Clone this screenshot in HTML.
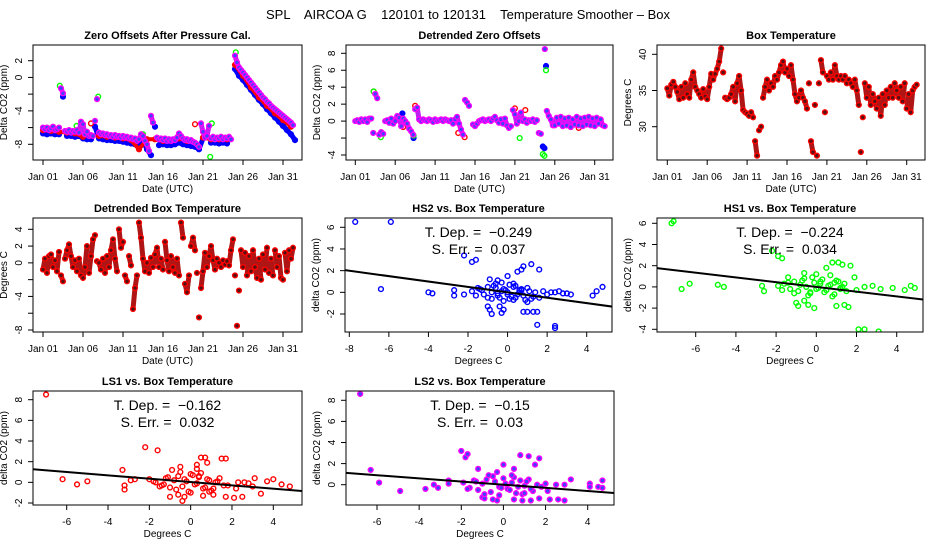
<!DOCTYPE html>
<html><head><meta charset="utf-8">
<style>
html,body{margin:0;padding:0;background:#fff;}
svg{display:block;font-family:"Liberation Sans",sans-serif;}
text{white-space:pre;}
</style></head>
<body>
<svg id="chart" width="936" height="540" viewBox="0 0 936 540" xmlns="http://www.w3.org/2000/svg">
<text x="468" y="19" text-anchor="middle" font-size="13">SPL    AIRCOA G    120101 to 120131    Temperature Smoother – Box</text>
</svg>
<script>
// ---------- data ----------
const dateTickDays = [0,5,10,15,20,25,30];
const dateTickLabels = ["Jan 01","Jan 06","Jan 11","Jan 16","Jan 21","Jan 26","Jan 31"];

// Panel 1: zero offsets (step 0.25 day)
const zoMagenta = [-6.0,-6.2,-6.0,-6.3, -6.1,-5.9,-6.3,-6.2, -6.0,-1.3,-1.9,-6.4, -6.5,-6.3,-6.6,-6.4,
 -6.5,-6.3,-6.6,-5.3, -5.6,-6.8,-6.5,-7.0, -6.9,-7.0,-5.2,-2.6, -6.6,-6.8,-6.7,-6.9,
 -6.8,-7.0,-6.9,-7.1, -6.9,-7.1,-7.0,-7.2, -7.0,-7.2,-7.1,-7.3, -7.2,-7.4,-7.3,-7.6,
 -7.4,-6.8,-7.0,-7.6, -8.0,-8.8,-4.6,-5.4, null,-7.2,-7.4,-7.3, -7.5,-7.3,-7.6,-7.4,
 -7.6,-7.4,-7.5,-7.2, -6.7,-7.0,-7.3,-7.5, -7.4,-7.6,-7.5,-7.7, -7.8,-8.0,-8.3,-5.5,
 -6.5,-7.2,-7.0,-5.8, -7.3,-7.1,-7.4,-7.2, -7.3,-7.1,-7.4,-7.2, -7.3,-7.1,-7.4,null,
 2.6,1.8,1.2,0.9, 0.6,0.3,0.0,-0.3, -0.6,-0.9,-1.2,-1.5, -1.8,-2.1,-2.4,-2.6,
 -2.9,-3.1,-3.4,-3.6, -3.8,-4.0,-4.2,-4.4, -4.6,-4.8,-5.0,-5.2, -5.4,-5.7];
const zoBlue = [-6.7,-6.8,-6.7,-6.8,-6.8,-2.3,-7.0,-7.0,-7.1,-7.0,-7.3,-7.4,-7.4,-5.9,-7.3,-7.4,
 -7.5,-7.5,-7.6,-7.6,-7.7,-7.8,-7.9,-8.0,-8.1,-7.6,-8.6,-9.3,-5.9,-8.1,-8.0,-8.1,
 -8.1,-8.0,-7.8,-8.0,-8.1,-8.2,-8.3,-8.6,-7.3,-10.2,-7.8,-7.8,-7.9,-7.8,-7.9,null,
 1.0,0.2,-0.3,-0.9,-1.5,-2.1,-2.7,-3.2,-3.8,-4.3,-4.8,-5.3,-5.8,-6.3,-6.8,-7.5];
const zoRed = [-6.3,-6.4,-6.5,-6.6,-6.7,-7.1,-5.5,-7.0,-7.1,-7.2,-7.3,-7.5,-8.6,-7.4,-7.4,-7.6,
 -7.6,-7.3,-7.6,-5.6,-7.2,-7.4,-7.4,-7.4,1.5,0.2,-1.2,-2.4,-3.4,-4.3,-5.1,-5.9];
const zoGreenT = [2.1,6.9,20.9,21.1,24.1,12.5,4.2];
const zoGreenV = [-1.0,-2.3,-9.5,-5.5,3.0,-6.8,-5.8];

// Panel 2: detrended zero offsets (step 0.25 day)
const dzMagenta = [0.0,0.1,-0.1,0.2, 0.0,0.2,-0.1,0.3, 0.3,-1.4,3.2,2.7, -1.6,-1.3,-1.5,0.0,
 0.1,-0.2,0.3,-0.3, 0.0,0.6,0.4,-0.6, 0.3,0.0,-0.3,-0.9, -1.2,-1.6,1.4,1.6,
 0.2,0.0,0.2,0.1, 0.0,0.2,0.1,-0.1, 0.2,0.0,0.1,0.2, 0.0,0.2,0.1,0.0,
 0.1,-0.3,0.2,0.5, -0.3,-1.0,-1.6,2.5, 2.2,1.8,null,-0.4, -0.6,-0.3,0.0,0.1,
 0.2,0.0,0.1,0.2, 0.0,0.3,0.5,0.1, -0.2,0.2,-0.3,0.3, -0.5,-0.8,-0.6,1.3,
 0.8,-0.3,0.0,1.0, 0.0,0.2,-0.2,0.1, 0.0,0.2,-0.1,0.1, -1.4,-1.5,null,8.5,
 1.2,0.6,0.2,-0.5, -0.5,0.4,-0.3,0.5, -0.6,0.3,-0.5,0.4, -0.7,0.2,-0.4,0.5,
 -0.5,0.3,-0.6,0.4, -0.4,0.5,-0.5,0.3, -0.6,0.4,-0.3,0.2, -0.5,-0.6];
const dzBlueT = [23.5,23.7,23.9,5.9,7.3];
const dzBlueV = [-3.0,-3.2,6.5,0.9,-2.0];
const dzGreenT = [23.5,23.7,23.9,20.6,3.2,7.3,2.3];
const dzGreenV = [-3.9,-4.1,6.0,-2.0,-1.9,-1.7,3.5];
const dzRedT = [12.9,7.5,20.0,21.3,13.7,2.3,6.0,28.0,27.0];
const dzRedV = [-1.4,1.8,1.5,1.3,-1.9,3.5,-0.7,-0.8,-0.7];

// Panel 3: box temperature (step 0.25 day)
const boxTemp = [35.3,34.3,35.8,36.2, 35.5,34.8,33.8,35.5, 34.0,36.0,34.5,34.0, 36.5,37.5,35.5,35.0,
 34.5,34.0,35.2,34.2, 33.8,35.5,37.3,36.5, 37.3,38.0,39.0,40.8, 37.5,34.0,33.8,34.0,
 34.5,35.5,33.5,36.0, 37.0,35.0,32.3,32.0, 31.8,31.5,32.0,31.3, 28.0,26.0,29.5,30.0,
 34.0,35.5,36.5,35.0, 36.0,35.5,37.0,36.5, 37.5,38.5,39.0,37.5, 38.0,37.0,38.5,36.5,
 34.5,33.5,34.0,35.0, 34.0,33.5,32.5,36.0, 28.0,26.5,33.0,26.0, 36.0,39.2,37.5,32.0,
 37.0,36.5,37.5,36.5, 38.5,37.0,36.5,37.0, 36.5,37.0,36.0,36.5, 36.0,35.5,36.5,35.0,
 33.0,26.5,31.3,36.0, 34.0,35.5,33.0,34.5, 33.5,32.5,34.0,31.5, 34.5,33.0,35.0,34.0,
 35.5,34.0,36.0,35.0, 34.0,35.5,33.5,36.0, 32.5,34.5,32.0,35.0, 35.5,35.8];

// Panel 4: detrended box temperature (step 0.25 day)
const dBoxTemp = [-0.8,0.5,-1.2,0.8, 1.0,-0.5,0.3,-1.0, 1.3,-1.5,-2.2,0.5, 1.5,2.2,0.8,-0.5,
 0.3,-1.0,0.5,-1.5, -1.8,-0.5,2.0,-1.2, 0.8,2.8,3.3,0.2, 0.0,-0.8,0.5,-1.2,
 0.8,-0.5,1.5,2.8, 0.5,-1.0,4.0,1.8, 2.5,-1.5,-2.2,0.8, -0.3,-5.5,-3.0,-1.5,
 4.8,3.0,0.5,-1.0, 0.0,-1.2,0.6,-0.5, 1.0,1.8,-0.5,0.5, -0.8,2.5,0.3,-1.0,
 0.8,-0.5,-1.2,0.5, -1.5,4.8,3.0,-2.5, -3.5,-1.5,2.0,3.0, 1.5,-1.2,-6.5,-3.0,
 -1.0,1.2,-0.5,0.8, 2.0,0.3,-0.8,0.5, 0.0,-0.5,0.3,-0.2, 0.2,-0.3,1.5,2.8,
 -1.5,-7.5,-3.3,1.5, -0.5,1.2,-1.5,0.8, -1.0,1.5,-0.5,-1.8, 0.5,-2.0,1.0,-0.8,
 1.8,-1.2,0.5,-1.5, 1.5,-0.5,0.8,-1.8, -2.0,1.2,-1.0,1.5, 0.5,1.8];

// Scatter panels
const hs2X = [-7.7,-5.9,-6.4,-4.0,-3.8,-2.7,-2.7,-2.2,-1.8,-1.6,-2.2,-1.0,-0.9,-0.8,-0.4,-0.3,-0.2,0.5,0.7,0.8,1.2,1.6,1.5,2.4,2.4,0.8,1.0,1.3,1.5,2.4,2.8,3.2,4.3,4.5,4.8,2.0,1.8,-0.9,-0.5,0.0,0.3,
 -1.8,-1.5,-1.2,-1.0,-0.8,-0.6,-0.4,-0.2,0.0,0.2,0.4,0.6,0.8,1.0,1.2,1.4,-1.6,-1.3,-1.0,-0.7,-0.5,-0.3,-0.1,0.1,0.3,0.5,0.7,0.9,1.1,1.3,-0.8,-0.5,-0.2,0.1,0.4,0.7,1.0,-0.6,-0.3,0.0,0.3,0.6,-1.4,1.6,2.2,2.6,3.0];
const hs2Y = [6.5,6.5,0.3,0.0,-0.1,0.2,-0.3,3.4,2.8,3.0,-0.2,-1.3,-1.6,-2.0,-1.3,-1.9,-1.6,1.9,2.1,2.4,2.6,2.1,-3.0,-3.3,-3.1,-1.8,-1.8,-1.8,-1.8,0.0,-0.1,-0.2,-0.3,0.1,0.5,-0.2,0.1,1.2,1.1,1.5,0.8,
 0.1,0.4,-0.2,0.5,0.0,0.8,-0.5,0.3,0.0,-0.4,0.6,0.2,-0.3,0.4,-0.6,0.0,-0.3,0.2,-0.5,0.6,-0.1,0.9,0.2,-0.6,0.5,-0.2,0.3,-0.7,0.1,-0.4,-0.6,-0.3,-0.8,0.7,-0.5,0.2,-0.9,0.4,0.1,-0.2,-0.7,0.0,0.3,-0.5,0.0,0.1,-0.1];
const hs1X = [-7.2,-7.1,-6.7,-6.3,-4.9,-4.6,-2.7,-2.6,-2.2,-1.9,-1.7,-1.0,-0.9,-0.6,-0.4,-0.1,0.5,0.8,1.1,1.3,1.7,2.1,2.4,3.1,1.0,1.4,1.6,3.8,4.4,4.7,4.9,2.8,3.2,1.9,-1.4,-0.6,0.0,0.7,
 -1.9,-1.6,-1.3,-1.1,-0.9,-0.7,-0.5,-0.3,-0.1,0.1,0.3,0.5,0.7,0.9,1.1,1.3,1.5,-1.7,-1.4,-1.1,-0.8,-0.4,-0.2,0.0,0.2,0.4,0.6,0.8,1.0,1.2,1.4,2.0,2.4,-0.6,-0.3,0.2,0.5,0.9,1.2];
const hs1Y = [6.0,6.2,-0.2,0.3,0.2,0.0,0.1,-0.4,3.4,2.9,2.7,-1.5,-1.8,-1.3,-1.7,-2.0,1.8,2.3,2.3,2.1,2.0,-4.0,-4.0,-4.2,-1.8,-1.7,-1.9,-0.1,-0.3,0.1,-0.1,0.1,-0.2,0.9,0.9,1.3,1.2,1.1,
 0.1,0.3,-0.2,0.5,-0.4,0.6,0.0,-0.6,0.4,-0.1,0.7,-0.3,0.2,-0.7,0.5,0.0,-0.4,-0.3,0.4,-0.6,0.2,-0.8,0.9,-0.2,0.5,-0.5,0.1,-0.9,0.6,-0.2,0.3,-0.3,0.0,0.8,-0.5,0.3,-0.3,0.4,-0.1];
const ls1X = [-7.0,-6.2,-5.5,-5.0,-3.3,-3.2,-3.2,-2.9,-2.7,-2.2,-1.6,-1.0,-0.9,-0.6,-0.4,-0.3,0.3,0.5,0.7,0.8,1.5,1.7,0.6,1.1,1.7,2.1,2.5,3.4,3.7,4.0,4.4,4.8,3.1,2.8,2.3,-0.5,0.3,
 -2.0,-1.7,-1.4,-1.2,-1.0,-0.8,-0.6,-0.4,-0.2,0.0,0.2,0.4,0.6,0.8,1.0,1.2,1.4,1.6,-1.8,-1.5,-1.1,-0.7,-0.3,-0.1,0.1,0.3,0.5,0.7,0.9,1.1,1.3,1.8,2.2,2.6,3.0,-0.5,0.0,0.4,0.9,-1.3];
const ls1Y = [8.5,0.3,-0.2,0.1,1.2,-0.3,-0.7,0.2,0.3,3.4,3.1,-1.4,1.2,-1.2,-1.8,-1.4,1.7,2.4,2.4,1.9,2.3,2.3,-1.3,-1.2,-1.4,-1.5,-1.4,-1.1,0.1,0.3,-0.2,-0.4,0.4,-0.1,0.0,1.5,1.3,
 0.3,0.0,-0.3,0.4,-0.5,0.2,0.6,-0.4,0.1,0.8,-0.2,0.5,-0.6,0.3,-0.8,0.0,0.4,-0.3,0.1,-0.4,0.5,-0.7,0.3,-0.9,0.7,-0.1,0.9,-0.5,0.2,-0.6,0.1,-0.3,-0.6,0.0,-0.4,1.0,-1.0,0.6,-0.9,-0.2];
const ls2X = [-6.8,-6.3,-5.9,-4.9,-3.7,-3.3,-3.1,-2.6,-2.6,-2.0,-1.8,-1.7,-1.2,-1.0,-0.9,-0.5,-0.3,0.0,-0.3,0.5,0.8,1.2,1.5,1.7,0.5,0.9,1.3,1.7,2.2,2.6,2.9,3.2,4.1,4.1,4.5,4.7,4.7,2.1,2.5,2.9,
 -1.9,-1.6,-1.4,-1.2,-1.0,-0.8,-0.6,-0.4,-0.2,0.0,0.2,0.4,0.6,0.8,1.0,1.2,1.4,1.6,-1.7,-1.3,-0.9,-0.5,-0.1,0.1,0.3,0.5,0.7,0.9,1.1,1.3,1.8,2.0,-0.7,-0.2,0.4,1.0];
const ls2Y = [8.6,1.4,0.2,-0.6,-0.4,0.0,-0.3,0.4,0.1,3.2,2.6,2.9,1.5,-1.2,-1.3,-1.4,-1.5,1.9,1.2,1.5,2.8,2.7,1.9,2.5,-1.4,-1.5,-1.5,-1.3,-1.4,-1.4,-1.5,0.5,0.1,-0.2,-0.2,0.4,-0.3,-0.6,0.0,0.0,
 0.2,-0.3,0.4,-0.5,0.1,0.5,-0.7,0.3,-0.2,0.6,-0.4,0.2,-0.8,0.4,-0.1,0.5,-0.6,0.0,-0.4,0.3,-0.9,0.8,-0.3,0.1,-0.5,0.7,-0.2,-0.9,0.3,-0.4,-0.2,0.1,0.9,-1.0,0.9,-0.8];

const slopes = [-0.249,-0.224,-0.162,-0.15];
const intercepts = [0.0,0.0,0.03,0.0];
const depLabels = ["−0.249","−0.224","−0.162","−0.15"];
const errLabels = ["0.037","0.034","0.032","0.03"];

// ---------- drawing ----------
const NS = "http://www.w3.org/2000/svg";
const svg = document.getElementById("chart");
function mk(tag, attrs, parent){
  const e = document.createElementNS(NS, tag);
  for (const k in attrs) e.setAttribute(k, attrs[k]);
  parent.appendChild(e);
  return e;
}
function lin(v1,p1,v2,p2){ const k=(p2-p1)/(v2-v1); return v=>p1+(v-v1)*k; }

function panel(o){
  const g = mk("g", {}, svg);
  
  
  const [l,t,r,b] = o.box;
  const sx = lin(...o.xs), sy = lin(...o.ys);
  const clipId = "clip-" + o.name;
  const cp = mk("clipPath", {id: clipId}, g);
  mk("rect", {x:l, y:t, width:r-l, height:b-t}, cp);
  const title = mk("text", {x:(l+r)/2, y:t-6, "text-anchor":"middle", "font-size":"11", "font-weight":"bold"}, g);
  title.textContent = o.title;
  
  
  const xa = mk("g", {}, g);
  
  
  const xp = o.xticks.map(sx);
  mk("line", {x1:xp[0], x2:xp[xp.length-1], y1:b, y2:b, stroke:"#000"}, xa);
  o.xticks.forEach((v,i)=>{
    mk("line", {x1:sx(v), x2:sx(v), y1:b, y2:b+5, stroke:"#000"}, xa);
    const tx = mk("text", {x:sx(v), y:b+20, "text-anchor":"middle", "font-size":"10"}, xa);
    tx.textContent = o.xlabels[i];
    
    
  });
  const xl = mk("text", {x:(l+r)/2, y:b+32, "text-anchor":"middle", "font-size":"10"}, g);
  xl.textContent = o.xlab;
  
  
  const ya = mk("g", {}, g);
  
  
  o.yticks.forEach((v,i)=>{
    mk("line", {x1:l-5, x2:l, y1:sy(v), y2:sy(v), stroke:"#000"}, ya);
    if (o.ylabels[i] !== "") {
      const ty = mk("text", {x:l-11, y:sy(v), "text-anchor":"middle", "font-size":"10", transform:`rotate(-90 ${l-11} ${sy(v)})`}, ya);
      ty.textContent = o.ylabels[i];
      
      
    }
  });
  const yl = mk("text", {x:l-26, y:(t+b)/2, "text-anchor":"middle", "font-size":"10", transform:`rotate(-90 ${l-26} ${(t+b)/2})`}, g);
  yl.textContent = o.ylab;
  
  
  const plot = mk("g", {"clip-path":`url(#${clipId})`}, g);
  
  
  mk("rect", {x:l, y:t, width:r-l, height:b-t, fill:"none", stroke:"#000"}, g);
  return {g, plot, sx, sy, l, t, r, b};
}

function pts(P, xs, ys, color, fill, name){
  const gg = mk("g", {}, P.plot);
  
  
  for (let i=0;i<Math.min(xs.length, ys.length);i++){
    if (ys[i]===null || xs[i]===null) continue;
    const c = mk("circle", {cx:P.sx(xs[i]), cy:P.sy(ys[i]), r:2.4, fill:fill, stroke:color, "stroke-width":1.4}, gg);
    
    
  }
}
// dense band connecting consecutive close samples (mimics hourly sampling density); breaks on big jumps
function band(P, xs, ys, color, w, maxJump, name){
  const gg = mk("g", {}, P.plot);
  
  
  let seg = [], lastY = null;
  const flush = ()=>{
    if (seg.length > 1) mk("polyline", {points:seg.join(" "), fill:"none", stroke:color, "stroke-width":w, "stroke-linejoin":"round", "stroke-linecap":"round"}, gg);
    seg = []; lastY = null;
  };
  for (let i=0;i<ys.length;i++){
    if (ys[i]===null) { flush(); continue; }
    const px = P.sx(xs[i]), py = P.sy(ys[i]);
    if (lastY !== null && Math.abs(py-lastY) > maxJump) flush();
    seg.push(px.toFixed(1)+","+py.toFixed(1));
    lastY = py;
  }
  flush();
}
function seriesT(vals, step){ return vals.map((_,i)=>i*step); }

// Panel 1
let P = panel({name:"zero-offsets-panel", box:[33,45,302,160], xs:[0,43,30,283], ys:[2,60.7,-8,144.3],
  xticks:dateTickDays, xlabels:dateTickLabels, yticks:[-8,-6,-4,-2,0,2], ylabels:["-8","","-4","","0","2"],
  title:"Zero Offsets After Pressure Cal.", xlab:"Date (UTC)", ylab:"Delta CO2 (ppm)"});
band(P, seriesT(zoBlue,0.5), zoBlue, "#0000ff", 5, 12, "band-hs2");
pts(P, seriesT(zoBlue,0.5), zoBlue, "#0000ff", "#0000ff", "series-hs2");
band(P, seriesT(zoRed,1), zoRed, "#ff0000", 4, 12, "band-ls1");
pts(P, seriesT(zoRed,1), zoRed, "#ff0000", "none", "series-ls1");
pts(P, zoGreenT, zoGreenV, "#00ff00", "none", "series-hs1");
band(P, seriesT(zoMagenta,0.25), zoMagenta, "#c020f0", 5, 12, "band-ls2");
pts(P, seriesT(zoMagenta,0.25), zoMagenta, "#ff00ff", "#4040ff", "series-ls2");

// Panel 2
P = panel({name:"detrended-zero-offsets-panel", box:[346,45,613,160], xs:[0,355.3,30,594.7], ys:[8,53.3,-4,155],
  xticks:dateTickDays, xlabels:dateTickLabels, yticks:[-4,-2,0,2,4,6,8], ylabels:["-4","","0","2","4","6","8"],
  title:"Detrended Zero Offsets", xlab:"Date (UTC)", ylab:"Delta CO2 (ppm)"});
pts(P, dzRedT, dzRedV, "#ff0000", "none", "series-ls1");
pts(P, dzBlueT, dzBlueV, "#0000ff", "#0000ff", "series-hs2");
pts(P, dzGreenT, dzGreenV, "#00ff00", "none", "series-hs1");
band(P, seriesT(dzMagenta,0.25), dzMagenta, "#c020f0", 5, 12, "band-ls2");
pts(P, seriesT(dzMagenta,0.25), dzMagenta, "#ff00ff", "#4040ff", "series-ls2");

// Panel 3
P = panel({name:"box-temperature-panel", box:[657,45,925,160], xs:[0,667.3,30,906.7], ys:[40,54.3,30,126.7],
  xticks:dateTickDays, xlabels:dateTickLabels, yticks:[30,35,40], ylabels:["30","35","40"],
  title:"Box Temperature", xlab:"Date (UTC)", ylab:"Degrees C"});
band(P, seriesT(boxTemp,0.25), boxTemp, "#b01515", 5, 22, "band-box-temp");
pts(P, seriesT(boxTemp,0.25), boxTemp, "#ff0000", "#551010", "series-box-temp");

// Panel 4
P = panel({name:"detrended-box-temperature-panel", box:[33,218,302,332], xs:[0,43,30,283], ys:[4,229.3,-8,330],
  xticks:dateTickDays, xlabels:dateTickLabels, yticks:[-8,-6,-4,-2,0,2,4], ylabels:["-8","","-4","","0","2","4"],
  title:"Detrended Box Temperature", xlab:"Date (UTC)", ylab:"Degrees C"});
band(P, seriesT(dBoxTemp,0.25), dBoxTemp, "#b01515", 5, 22, "band-detrended-temp");
pts(P, seriesT(dBoxTemp,0.25), dBoxTemp, "#ff0000", "#551010", "series-detrended-temp");

function scatter(cfg, xs, ys, color, fill, idx){
  const P = panel(cfg);
  pts(P, xs, ys, color, fill, "scatter-points");
  const [x0,x1] = [cfg.xdom[0], cfg.xdom[1]];
  const ln = mk("line", {x1:P.sx(x0), y1:P.sy(intercepts[idx]+slopes[idx]*x0), x2:P.sx(x1), y2:P.sy(intercepts[idx]+slopes[idx]*x1), stroke:"#000", "stroke-width":2}, P.plot);
  
  
  const cx = (P.l+P.r)/2;
  const a = mk("text", {x:cx, y:P.t+19, "text-anchor":"middle", "font-size":"14"}, P.g);
  a.textContent = "T. Dep. =  " + depLabels[idx];
  
  
  const e = mk("text", {x:cx, y:P.t+36, "text-anchor":"middle", "font-size":"14"}, P.g);
  e.textContent = "S. Err. =  " + errLabels[idx];
  
  
}
scatter({name:"hs2-vs-temp-panel", box:[345,218,612,332], xs:[-8,349.3,4,586.7], ys:[6,227.3,-2,314], xdom:[-8.3,5.4],
  xticks:[-8,-6,-4,-2,0,2,4], xlabels:["-8","-6","-4","-2","0","2","4"], yticks:[-2,0,2,4,6], ylabels:["-2","0","2","4","6"],
  title:"HS2 vs. Box Temperature", xlab:"Degrees C", ylab:"delta CO2 (ppm)"}, hs2X, hs2Y, "#0000ff", "none", 0);
scatter({name:"hs1-vs-temp-panel", box:[657,218,923,332], xs:[-6,695.7,4,896.7], ys:[6,223.3,-4,329.3], xdom:[-8,5.5],
  xticks:[-6,-4,-2,0,2,4], xlabels:["-6","-4","-2","0","2","4"], yticks:[-4,-2,0,2,4,6], ylabels:["-4","-2","0","2","4","6"],
  title:"HS1 vs. Box Temperature", xlab:"Degrees C", ylab:"delta CO2 (ppm)"}, hs1X, hs1Y, "#00ff00", "none", 1);
scatter({name:"ls1-vs-temp-panel", box:[33,391,302,505], xs:[-6,66.7,4,273.3], ys:[8,399.7,-2,503], xdom:[-8,5.5],
  xticks:[-6,-4,-2,0,2,4], xlabels:["-6","-4","-2","0","2","4"], yticks:[-2,0,2,4,6,8], ylabels:["-2","0","2","4","6","8"],
  title:"LS1 vs. Box Temperature", xlab:"Degrees C", ylab:"delta CO2 (ppm)"}, ls1X, ls1Y, "#ff0000", "none", 2);
scatter({name:"ls2-vs-temp-panel", box:[346,391,614,505], xs:[-6,377,4,587.7], ys:[8,400.3,0,484.7], xdom:[-8,5.5],
  xticks:[-6,-4,-2,0,2,4], xlabels:["-6","-4","-2","0","2","4"], yticks:[0,2,4,6,8], ylabels:["0","2","4","6","8"],
  title:"LS2 vs. Box Temperature", xlab:"Degrees C", ylab:"delta CO2 (ppm)"}, ls2X, ls2Y, "#ff00ff", "#4040ff", 3);
</script>
</body></html>
